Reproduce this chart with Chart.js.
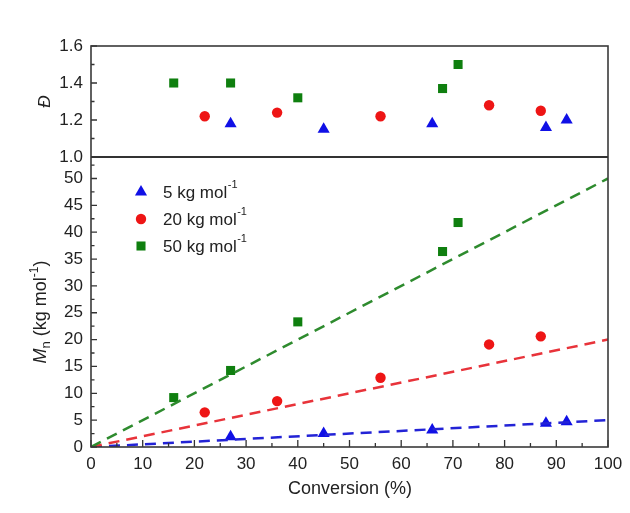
<!DOCTYPE html>
<html><head><meta charset="utf-8">
<script src="https://cdn.jsdelivr.net/npm/chart.js@4.4.1/dist/chart.umd.min.js"></script>
<style>html,body{margin:0;padding:0;background:#fff}#wrap{width:630px;height:513px}</style>
</head><body><div id="wrap"><canvas id="c" width="630" height="513"></canvas></div>
<script>
// ---- data ----
const blueConv = [27, 45, 66, 88, 92];
const blueMn   = [1.9, 2.5, 3.15, 4.4, 4.7];
const blueD    = [1.18, 1.15, 1.18, 1.16, 1.20];
const redConv  = [22, 36, 56, 77, 87];
const redMn    = [6.45, 8.55, 12.9, 19.1, 20.6];
const redD     = [1.22, 1.24, 1.22, 1.28, 1.25];
const greenConv = [16, 27, 40, 68, 71];
const greenMn   = [9.2, 14.25, 23.3, 36.4, 41.8];
const greenD    = [1.40, 1.40, 1.32, 1.37, 1.50];
const lineConv  = [0, 100];
const blueLine  = [0, 5];
const redLine   = [0, 20];
const greenLine = [0, 50];
const legendLabels = ['5 kg mol', '20 kg mol', '50 kg mol'];
const xTicks = [0,10,20,30,40,50,60,70,80,90,100];
const xMinor = [5,15,25,35,45,55,65,75,85,95];
const mnTicks = [0,5,10,15,20,25,30,35,40,45,50];
const mnMinor = [2.5,7.5,12.5,17.5,22.5,27.5,32.5,37.5,42.5,47.5,52.5];
const dTicks = [1.0,1.2,1.4,1.6];
const dMinor = [1.1,1.3,1.5];

const BLUE = '#1010e6', RED = '#ee1515', GREEN = '#0f7f0f';
const FONT = 'Liberation Sans, Arial, sans-serif';
const pts = (xs, ys) => xs.map((x, i) => ({x, y: ys[i]}));

function lineDs(ys, color, axis) {
  return {type:'line', data: pts(lineConv, ys), yAxisID: axis, borderColor: color, borderWidth: 2.5,
    borderDash: [11, 7], pointRadius: 0, fill: false, showLine: true, tension: 0, clip: 0};
}
function markDs(xs, ys, color, style, r, axis) {
  return {type:'scatter', data: pts(xs, ys), yAxisID: axis, backgroundColor: color, borderColor: color,
    borderWidth: 0, pointStyle: style, pointRadius: r, pointHoverRadius: r, showLine: false};
}

const styles = [['triangle', BLUE, 7], ['circle', RED, 5.2], ['rect', GREEN, 6.4]];

const deco = {
  id: 'deco',
  afterDraw(chart) {
    const ctx = chart.ctx;
    const xs = chart.scales.x, yM = chart.scales.yM, yD = chart.scales.yD;
    const L = chart.chartArea.left, R = chart.chartArea.right;
    const T = yD.top, S = yD.bottom, B = yM.bottom;
    ctx.save();
    ctx.strokeStyle = '#333';
    ctx.lineWidth = 1.3;
    // ticks (inward)
    ctx.beginPath();
    dTicks.forEach(v => { const y = yD.getPixelForValue(v); ctx.moveTo(L, y); ctx.lineTo(L + 6, y); });
    dMinor.forEach(v => { const y = yD.getPixelForValue(v); ctx.moveTo(L, y); ctx.lineTo(L + 3.5, y); });
    mnTicks.forEach(v => { const y = yM.getPixelForValue(v); ctx.moveTo(L, y); ctx.lineTo(L + 6, y); });
    mnMinor.forEach(v => { const y = yM.getPixelForValue(v); ctx.moveTo(L, y); ctx.lineTo(L + 3.5, y); });
    xTicks.forEach(v => { const x = xs.getPixelForValue(v); ctx.moveTo(x, B); ctx.lineTo(x, B - 7); });
    xMinor.forEach(v => { const x = xs.getPixelForValue(v); ctx.moveTo(x, B); ctx.lineTo(x, B - 4); });
    ctx.stroke();
    // frame
    ctx.lineWidth = 1.6;
    ctx.strokeStyle = '#3a3a3a';
    ctx.strokeRect(L, T, R - L, B - T);
    ctx.lineWidth = 2;
    ctx.strokeStyle = '#333';
    ctx.beginPath(); ctx.moveTo(L, S); ctx.lineTo(R, S); ctx.stroke();

    // x title
    ctx.fillStyle = '#222';
    ctx.font = '18px ' + FONT;
    ctx.textAlign = 'center'; ctx.textBaseline = 'middle';
    ctx.fillText('Conversion (%)', (L + R) / 2 + 0.5, 489);

    // D title
    ctx.save();
    ctx.translate(45, (T + S) / 2);
    ctx.rotate(-Math.PI / 2);
    ctx.font = 'italic 17px ' + FONT;
    ctx.fillText('\u0110', 0, 0);
    ctx.restore();

    // Mn title
    ctx.save();
    ctx.translate(40, 312);
    ctx.rotate(-Math.PI / 2);
    ctx.textAlign = 'left'; ctx.textBaseline = 'alphabetic';
    const segs = [
      ['M', 'italic 18px ' + FONT, 0],
      ['n', '13px ' + FONT, 4],
      [' (kg mol', '18px ' + FONT, 0],
      ['-1', '12px ' + FONT, -8],
      [')', '18px ' + FONT, 0]
    ];
    let tot = 0;
    segs.forEach(s => { ctx.font = s[1]; tot += ctx.measureText(s[0]).width; });
    let px = -tot / 2;
    segs.forEach(s => { ctx.font = s[1]; ctx.fillText(s[0], px, 6 + s[2]); px += ctx.measureText(s[0]).width; });
    ctx.restore();

    // legend
    const ly = [192, 219, 246];
    styles.forEach((st, i) => {
      ctx.fillStyle = st[1];
      ctx.strokeStyle = st[1];
      Chart.helpers.drawPoint(ctx, {pointStyle: st[0], radius: st[2], rotation: 0, borderWidth: 0}, 141, ly[i]);
      ctx.fillStyle = '#222';
      ctx.textAlign = 'left'; ctx.textBaseline = 'middle';
      ctx.font = '17px ' + FONT;
      ctx.fillText(legendLabels[i], 163, ly[i] + 1);
      const w = ctx.measureText(legendLabels[i]).width;
      ctx.font = '11px ' + FONT;
      ctx.fillText('-1', 163 + w + 0.5, ly[i] - 7);
    });
    ctx.restore();
  }
};

new Chart(document.getElementById('c'), {
  data: {
    datasets: [
      lineDs(greenLine, '#2e8b2e', 'yM'),
      lineDs(redLine, '#e8333a', 'yM'),
      lineDs(blueLine, '#2323d6', 'yM'),
      markDs(blueConv, blueMn, BLUE, 'triangle', 7, 'yM'),
      markDs(redConv, redMn, RED, 'circle', 5.2, 'yM'),
      markDs(greenConv, greenMn, GREEN, 'rect', 6.4, 'yM'),
      markDs(blueConv, blueD, BLUE, 'triangle', 7, 'yD'),
      markDs(redConv, redD, RED, 'circle', 5.2, 'yD'),
      markDs(greenConv, greenD, GREEN, 'rect', 6.4, 'yD')
    ]
  },
  options: {
    responsive: false,
    animation: false,
    devicePixelRatio: 1,
    layout: {padding: {left: 0, right: 22, top: 46, bottom: 0}},
    plugins: {legend: {display: false}, tooltip: {enabled: false}},
    scales: {
      x: {
        type: 'linear', min: 0, max: 100, position: 'bottom',
        grid: {display: false, drawTicks: false}, border: {display: false},
        afterBuildTicks: s => { s.ticks = xTicks.map(v => ({value: v})); },
        afterFit: s => { s.height = 66; },
        ticks: {padding: 7, color: '#222', font: {family: FONT, size: 17}, maxRotation: 0, autoSkip: false}
      },
      yM: {
        type: 'linear', min: 0, max: 54, position: 'left', stack: 'v', stackWeight: 290,
        grid: {display: false, drawTicks: false}, border: {display: false},
        afterBuildTicks: s => { s.ticks = mnTicks.map(v => ({value: v})); },
        afterFit: s => { s.width = 91; },
        ticks: {padding: 8, color: '#222', font: {family: FONT, size: 17}, autoSkip: false}
      },
      yD: {
        type: 'linear', min: 1.0, max: 1.6, position: 'left', stack: 'v', stackWeight: 111,
        grid: {display: false, drawTicks: false}, border: {display: false},
        afterBuildTicks: s => { s.ticks = dTicks.map(v => ({value: v})); },
        afterFit: s => { s.width = 91; },
        ticks: {padding: 8, color: '#222', font: {family: FONT, size: 17}, autoSkip: false,
          callback: v => Number(v).toFixed(1)}
      }
    }
  },
  plugins: [deco]
});
</script>
</body></html>
